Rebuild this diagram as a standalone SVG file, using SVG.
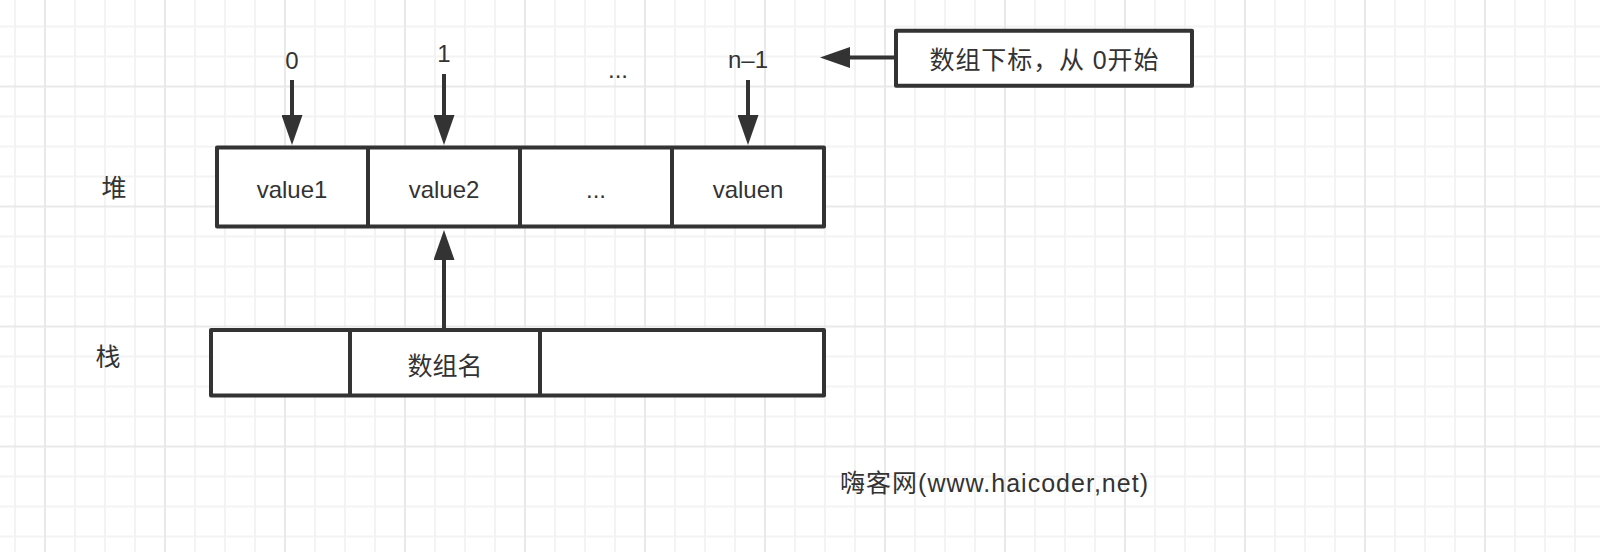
<svg xmlns="http://www.w3.org/2000/svg" width="1600" height="552" viewBox="0 0 1600 552">
<style>
.grid-minor{stroke:#f3f3f3;stroke-width:2;fill:none}
.grid-major{stroke:#e9e9e9;stroke-width:2;fill:none}
.box{fill:#ffffff;stroke:#333333;stroke-width:4;stroke-linejoin:round}
.div{stroke:#333333;stroke-width:4;fill:none}
.edge{stroke:#333333;stroke-width:4;fill:none}
text{font-family:"Liberation Sans","Noto Sans CJK SC",sans-serif;font-size:24px;fill:#333333;text-anchor:middle}
.cjk{font-size:25px}
</style>
<defs>
<marker id="arrow" viewBox="0 0 30 21" refX="0" refY="10.5" markerWidth="30" markerHeight="21" markerUnits="userSpaceOnUse" orient="auto">
<path d="M0 0L30 10.5L0 21Z" fill="#333333"/>
</marker>
</defs>
<rect width="1600" height="552" fill="#ffffff"/>
<g id="grid">
<path class="grid-minor" d="M15 0V552M75 0V552M105 0V552M135 0V552M195 0V552M225 0V552M255 0V552M315 0V552M345 0V552M375 0V552M435 0V552M465 0V552M495 0V552M555 0V552M585 0V552M615 0V552M675 0V552M705 0V552M735 0V552M795 0V552M825 0V552M855 0V552M915 0V552M945 0V552M975 0V552M1035 0V552M1065 0V552M1095 0V552M1155 0V552M1185 0V552M1215 0V552M1275 0V552M1305 0V552M1335 0V552M1395 0V552M1425 0V552M1455 0V552M1515 0V552M1545 0V552M1575 0V552M0 26.5H1600M0 56.5H1600M0 116.5H1600M0 146.5H1600M0 176.5H1600M0 236.5H1600M0 266.5H1600M0 296.5H1600M0 356.5H1600M0 386.5H1600M0 416.5H1600M0 476.5H1600M0 506.5H1600M0 536.5H1600"/>
<path class="grid-major" d="M45 0V552M165 0V552M285 0V552M405 0V552M525 0V552M645 0V552M765 0V552M885 0V552M1005 0V552M1125 0V552M1245 0V552M1365 0V552M1485 0V552M0 86.5H1600M0 206.5H1600M0 326.5H1600M0 446.5H1600"/>
</g>
<g id="connectors">
<path class="edge" d="M292 80V115" marker-end="url(#arrow)"/>
<path class="edge" d="M444 74V115" marker-end="url(#arrow)"/>
<path class="edge" d="M748 80V115" marker-end="url(#arrow)"/>
<path class="edge" d="M444 330V260" marker-end="url(#arrow)"/>
<path class="edge" d="M896 57.5H850" marker-end="url(#arrow)"/>
</g>
<g id="heap">
<rect class="box" x="217" y="147.5" width="607" height="79"/>
<path class="div" d="M368 147.5V226.5M520 147.5V226.5M672 147.5V226.5"/>
<text x="292" y="198">value1</text>
<text x="444" y="198">value2</text>
<text x="596" y="198">...</text>
<text x="748" y="198">valuen</text>
</g>
<g id="stack">
<rect class="box" x="211" y="330" width="613" height="65.5"/>
<path class="div" d="M350 330V395.5M540 330V395.5"/>
<text class="cjk" x="445" y="374.5">数组名</text>
</g>
<g id="label-heap"><text class="cjk" x="114" y="197">堆</text></g>
<g id="label-stack"><text class="cjk" x="108" y="366">栈</text></g>
<g id="idx-0"><text x="292" y="69">0</text></g>
<g id="idx-1"><text x="444" y="62">1</text></g>
<g id="idx-dots"><text x="618" y="78">...</text></g>
<g id="idx-n1"><text x="748" y="68.3">n–1</text></g>
<g id="note">
<rect class="box" x="896" y="30.7" width="296" height="55"/>
<text class="cjk" x="1044" y="68.5" textLength="229" lengthAdjust="spacing">数组下标，从 0开始</text>
</g>
<g id="watermark"><text class="cjk" x="994" y="491.5" textLength="308" lengthAdjust="spacing">嗨客网(www.haicoder,net)</text></g>
</svg>
